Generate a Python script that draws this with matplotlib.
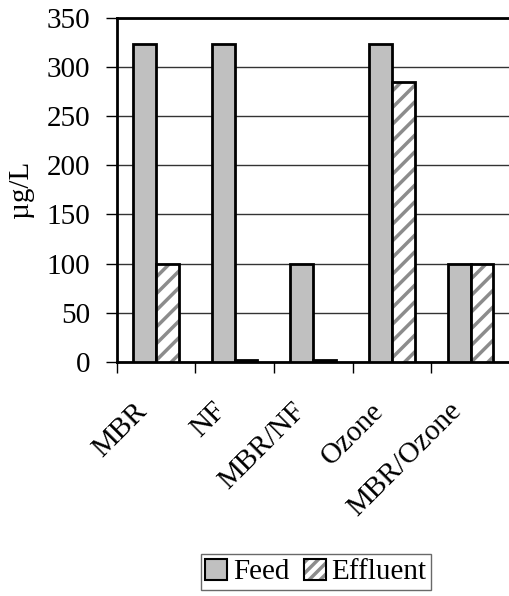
import matplotlib
matplotlib.use("Agg")
import matplotlib.pyplot as plt
import matplotlib.transforms as mtransforms
import numpy as np
from matplotlib.patches import Patch
from matplotlib.legend_handler import HandlerTuple

plt.rcParams['font.family'] = ['Liberation Serif', 'DejaVu Serif']
plt.rcParams['hatch.linewidth'] = 2.5

# data
processes = ['MBR', 'NF', 'MBR/NF', 'Ozone', 'MBR/Ozone']
feed = [323, 323, 100, 323, 100]
effluent = [100, 2, 2, 285, 99.5]

fig = plt.figure(figsize=(5.09, 5.96), dpi=100)
ax = fig.add_axes([0.229, 0.393, 0.773, 0.577])

x = np.arange(len(processes))
w = 0.29
ax.bar(x - w / 2, feed, w, color='#c0c0c0', edgecolor='black', linewidth=2, zorder=3)
# effluent: gray hatch on white, then black outline on top
ax.bar(x + w / 2, effluent, w, color='white', edgecolor='#8c8c8c', hatch='//', linewidth=0, zorder=3)
ax.bar(x + w / 2, effluent, w, color='none', edgecolor='black', linewidth=2, zorder=4)

ax.set_xlim(-0.5, len(processes) - 0.5)
ax.set_ylim(0, 350)
ax.set_yticks(range(0, 351, 50))
ax.yaxis.grid(True, color='#333333', linewidth=1)
ax.set_axisbelow(True)

ax.set_xticks(np.arange(len(processes) + 1) - 0.5, minor=False)
ax.set_xticklabels([])
ax.set_xticks(x, minor=True)
ax.set_xticklabels(processes, minor=True, rotation=45, ha='right', va='top',
                   rotation_mode='anchor', fontsize=21)
ax.tick_params(axis='x', which='minor', length=0, pad=26)
ax.tick_params(axis='x', which='major', length=8, width=1, direction='out')
ax.tick_params(axis='y', length=8, width=1, direction='out', labelsize=21, pad=11)
shift = mtransforms.ScaledTranslation(-0.22, 0, fig.dpi_scale_trans)
for lab in ax.get_xticklabels(minor=True):
    lab.set_transform(lab.get_transform() + shift)

ax.spines['right'].set_visible(False)
for s in ['left', 'bottom', 'top']:
    ax.spines[s].set_linewidth(2)

ax.set_ylabel('µg/L', fontsize=21, labelpad=9)

h_feed = Patch(facecolor='#c0c0c0', edgecolor='black', linewidth=1.5)
h_eff = (Patch(facecolor='white', edgecolor='#8c8c8c', hatch='///', linewidth=0),
         Patch(facecolor='none', edgecolor='black', linewidth=1.5))
leg = fig.legend([h_feed, h_eff], ['Feed', 'Effluent'], ncol=2,
                 loc='center', bbox_to_anchor=(316 / 509, 1 - 572 / 596),
                 fontsize=21, frameon=True, fancybox=False, edgecolor='#444444',
                 handlelength=0.75, handleheight=0.75, handletextpad=0.2,
                 columnspacing=0.5, borderpad=0.15,
                 handler_map={tuple: HandlerTuple(ndivide=1, pad=0)})
leg.get_frame().set_linewidth(1)

fig.savefig('out.png', dpi=100)
